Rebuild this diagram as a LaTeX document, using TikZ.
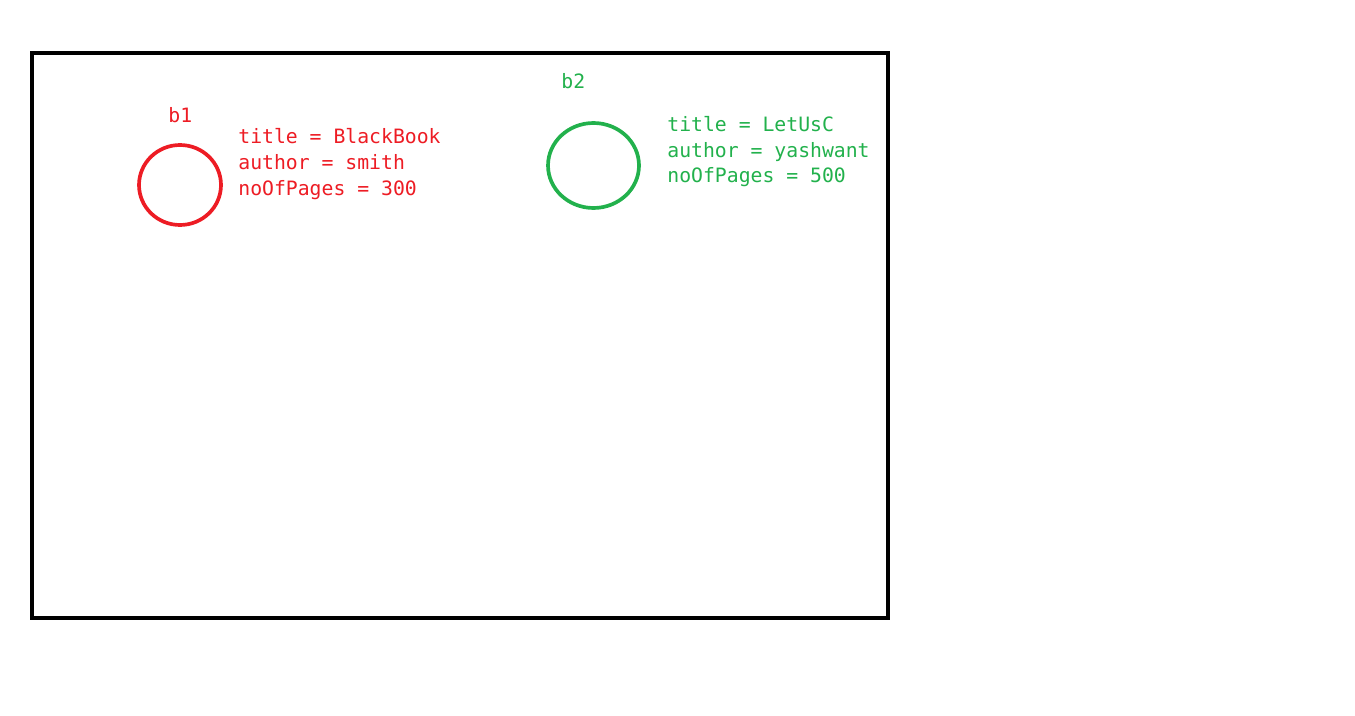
\documentclass[tikz,border=0pt]{standalone}
\usepackage{fontspec}
\newfontfamily\objfont{DejaVu Sans Mono}
\usetikzlibrary{positioning,shapes.geometric}

\definecolor{objred}{HTML}{ED1C24}
\definecolor{objgreen}{HTML}{22B14C}

\begin{document}
\begin{tikzpicture}
			[x=0.02cm,y=-0.02cm,
			heap/.style={draw=black,line width=2.3pt},
			obj/.style={ellipse,draw,line width=2.1pt,inner sep=0pt},
			field/.style={anchor=base west,inner sep=0pt,font=\objfont\fontsize{11.25}{14}\selectfont},
			redobj/.style={obj,draw=objred,minimum width=1.64cm,minimum height=1.6cm},
			greenobj/.style={obj,draw=objgreen,minimum width=1.82cm,minimum height=1.7cm}]
			
			\useasboundingbox (0,0) rectangle (1355,716);
			
			% heap area
			\draw [heap] (32,53) rectangle (888,618);
			
			% object b1
			\node [redobj] (c1) at (180,185) {};
				\node [field,text=objred] (n1) at (168,123)   {b1};
				\node [field,text=objred] (t1) at (238,144)   {title = BlackBook};
				\node [field,text=objred] (a1) at (238,170)   {author = smith};
				\node [field,text=objred] (p1) at (238,195)   {noOfPages = 300};
			
			% object b2
			\node [greenobj] (c2) at (593.5,165.5) {};
				\node [field,text=objgreen] (n2) at (561,89)  {b2};
				\node [field,text=objgreen] (t2) at (667,132) {title = LetUsC};
				\node [field,text=objgreen] (a2) at (667,158) {author = yashwant};
				\node [field,text=objgreen] (p2) at (667,183) {noOfPages = 500};
			
			\end{tikzpicture}
\end{document}
